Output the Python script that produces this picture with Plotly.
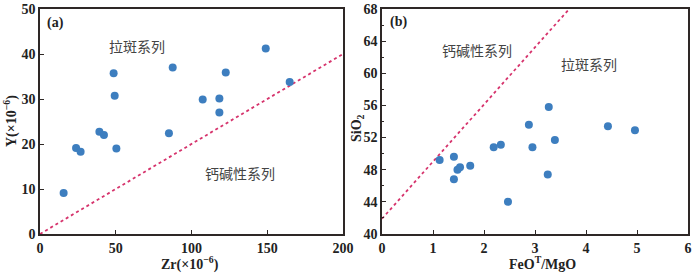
import plotly.graph_objects as go

# Panel (a): Zr vs Y
zr = [149, 87.6, 48.6, 122.6, 164.8, 49.3, 107.4, 118.4, 118.4, 39.2, 42.2, 85.1, 23.8, 26.8, 50.4, 15.6]
y_vals = [41.2, 37.0, 35.7, 35.9, 33.8, 30.7, 29.9, 30.1, 27.0, 22.7, 22.0, 22.4, 19.1, 18.3, 19.0, 9.1]
line_a_x = [0, 200]
line_a_y = [0, 40]

# Panel (b): FeOT/MgO vs SiO2
feo_mgo = [3.27, 2.88, 4.43, 4.96, 3.39, 2.19, 2.33, 2.95, 1.13, 1.41, 1.48, 1.53, 1.73, 1.41, 3.25, 2.47]
sio2 = [55.8, 53.6, 53.4, 52.9, 51.7, 50.8, 51.1, 50.8, 49.2, 49.6, 48.0, 48.3, 48.5, 46.8, 47.4, 44.0]
line_b_x = [0, 3.67]
line_b_y = [41.9, 68]

W, H = 700, 274
def px(x): return x / W
def py(y): return 1 - y / H

dot_color = "#3d7ebf"
line_color = "#d6336c"
frame = "#2e2826"
tickfont = dict(family="Liberation Serif", size=14, color="#222", weight="bold")
cjk = dict(family="Noto Sans CJK SC", size=14, color="#444")
lab = dict(family="Liberation Serif", size=14, color="#222", weight="bold")

fig = go.Figure()
fig.add_trace(go.Scatter(x=line_a_x, y=line_a_y, mode="lines",
                         line=dict(color=line_color, width=1.8, dash="dot"),
                         xaxis="x", yaxis="y", showlegend=False))
fig.add_trace(go.Scatter(x=zr, y=y_vals, mode="markers",
                         marker=dict(color=dot_color, size=8),
                         xaxis="x", yaxis="y", showlegend=False))
fig.add_trace(go.Scatter(x=line_b_x, y=line_b_y, mode="lines",
                         line=dict(color=line_color, width=1.8, dash="dot"),
                         xaxis="x2", yaxis="y2", showlegend=False))
fig.add_trace(go.Scatter(x=feo_mgo, y=sio2, mode="markers",
                         marker=dict(color=dot_color, size=8),
                         xaxis="x2", yaxis="y2", showlegend=False))

common = dict(showline=True, linecolor=frame, linewidth=1.5, mirror=True,
              ticks="inside", ticklen=4, tickwidth=1.2, tickcolor=frame,
              showgrid=False, zeroline=False, tickfont=tickfont, automargin=False)

ydom = [py(234), py(9)]
fig.update_layout(
    width=W, height=H, margin=dict(l=0, r=0, t=0, b=0, autoexpand=False),
    paper_bgcolor="white", plot_bgcolor="white",
    xaxis=dict(domain=[px(40), px(343)], range=[0, 200], dtick=50, anchor="y", **common),
    yaxis=dict(domain=ydom, range=[0, 50], dtick=10, anchor="x", **common),
    xaxis2=dict(domain=[px(382), px(688)], range=[0, 6], dtick=1, anchor="y2", **common),
    yaxis2=dict(domain=ydom, range=[40, 68], dtick=4, anchor="x2",
                minor=dict(ticks="inside", ticklen=2.5, tickcolor=frame, dtick=2, showgrid=False),
                **common),
)

anns = [
    dict(x=10, y=47, xref="x", yref="y", text="(a)", font=lab),
    dict(x=64, y=41.8, xref="x", yref="y", text="拉斑系列", font=cjk),
    dict(x=132, y=13.5, xref="x", yref="y", text="钙碱性系列", font=cjk),
    dict(x=0.32, y=66.4, xref="x2", yref="y2", text="(b)", font=lab),
    dict(x=1.86, y=62.9, xref="x2", yref="y2", text="钙碱性系列", font=cjk),
    dict(x=4.06, y=61.2, xref="x2", yref="y2", text="拉斑系列", font=cjk),
    dict(x=px(190), y=py(263), xref="paper", yref="paper", text="Zr(×10<sup>−6</sup>)", font=lab),
    dict(x=px(10), y=py(121), xref="paper", yref="paper", text="Y(×10<sup>−6</sup>)", textangle=-90, font=lab),
    dict(x=px(542), y=py(263), xref="paper", yref="paper", text="FeO<sup>T</sup>/MgO", font=lab),
    dict(x=px(357), y=py(128), xref="paper", yref="paper", text="SiO<sub>2</sub>", textangle=-90, font=lab),
]
for a in anns:
    a.update(showarrow=False, xanchor="center", yanchor="middle")
    fig.add_annotation(**a)

# remove the default page margin so the 700x274 figure fills the window exactly
fig.write_html("out.html", config={"displayModeBar": False},
               post_script="document.body.style.margin='0';")
